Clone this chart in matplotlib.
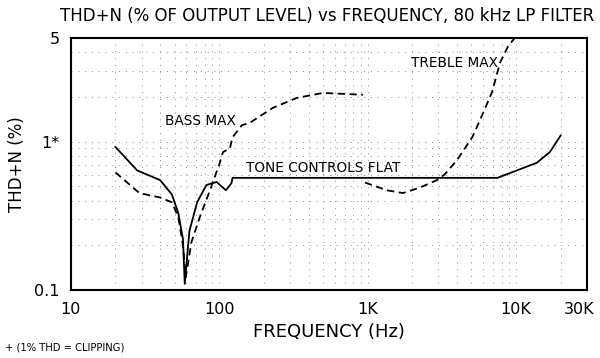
import matplotlib
matplotlib.use('Agg')
import matplotlib.pyplot as plt
import matplotlib.transforms as mtransforms
from matplotlib.ticker import FixedLocator, NullFormatter

# === Datos ===
flat_f = [20, 28, 40, 48, 53, 57, 58.6, 63, 71, 82, 96, 111, 121, 123,
          2000, 7500, 13800, 16900, 20000]
flat_thd = [0.92, 0.64, 0.55, 0.44, 0.33, 0.22, 0.11, 0.25, 0.39, 0.51, 0.535,
            0.47, 0.525, 0.57, 0.57, 0.57, 0.72, 0.85, 1.1]

bass_f = [20, 24, 29, 40, 48, 53, 57, 59.6, 65, 74, 86, 101, 106, 118, 123,
          142, 161, 230, 333, 500, 930]
bass_thd = [0.62, 0.53, 0.45, 0.42, 0.39, 0.31, 0.2, 0.122, 0.21, 0.31, 0.46,
            0.72, 0.85, 0.9, 1.07, 1.29, 1.34, 1.69, 1.97, 2.13, 2.07]

treble_f = [960, 1350, 1730, 2250, 2930, 3300, 4000, 5100, 6000, 6900, 7800,
            8800, 9800]
treble_thd = [0.53, 0.47, 0.45, 0.49, 0.55, 0.6, 0.75, 1.08, 1.56, 2.16, 3.4,
              4.35, 5.0]

x_ticks = [10, 100, 1000, 10000, 30000]
x_labels = ["10", "100", "1K", "10K", "30K"]
y_ticks = [0.1, 1, 5]
y_labels = ["0.1", "1*", "5"]

# === Figura ===
fig = plt.figure(figsize=(6, 3.58), dpi=100)
ax = fig.add_axes([0.118, 0.19, 0.860, 0.704])

ax.plot(flat_f, flat_thd, color="black", lw=1.3, linestyle="-")
ax.plot(bass_f, bass_thd, color="black", lw=1.3, linestyle=(0, (4, 2.5)))
ax.plot(treble_f, treble_thd, color="black", lw=1.3, linestyle=(0, (4, 2.5)))

ax.set_xscale("log")
ax.set_yscale("log")
ax.set_xlim(10, 30000)
ax.set_ylim(0.1, 5)

ax.xaxis.set_major_locator(FixedLocator(x_ticks))
ax.set_xticklabels(x_labels)
ax.yaxis.set_major_locator(FixedLocator(y_ticks))
ax.set_yticklabels(y_labels)
ax.xaxis.set_minor_formatter(NullFormatter())
ax.yaxis.set_minor_formatter(NullFormatter())
ax.tick_params(axis="x", which="both", length=0, labelsize=11.5, pad=9)
ax.tick_params(axis="y", which="both", length=0, labelsize=11.5, pad=8)

# el ultimo rotulo (30K) se corre un poco a la izquierda para no cortarse
ultimo = ax.get_xticklabels()[-1]
ultimo.set_transform(ultimo.get_transform() +
                     mtransforms.ScaledTranslation(-8 / 100, 0, fig.dpi_scale_trans))

ax.grid(True, which="both", color="#8a8a8a", linestyle=(0, (1, 6)), lw=0.7)
for s in ax.spines.values():
    s.set_linewidth(1.5)

ax.set_xlabel("FREQUENCY (Hz)", fontsize=13, labelpad=4)
ax.set_ylabel("THD+N (%)", fontsize=12, labelpad=6)
fig.text(0.1, 0.955, "THD+N (% OF OUTPUT LEVEL) vs FREQUENCY, 80 kHz LP FILTER",
         fontsize=12, va="center", ha="left")
fig.text(0.008, 0.03, "+ (1% THD = CLIPPING)", fontsize=7.2, va="center", ha="left")

ax.text(75, 1.38, "BASS MAX", fontsize=9.8, ha="center", va="center")
ax.text(500, 0.665, "TONE CONTROLS FLAT", fontsize=9.8, ha="center", va="center")
ax.text(3870, 3.39, "TREBLE MAX", fontsize=9.8, ha="center", va="center")

fig.savefig("out.png", dpi=100)
